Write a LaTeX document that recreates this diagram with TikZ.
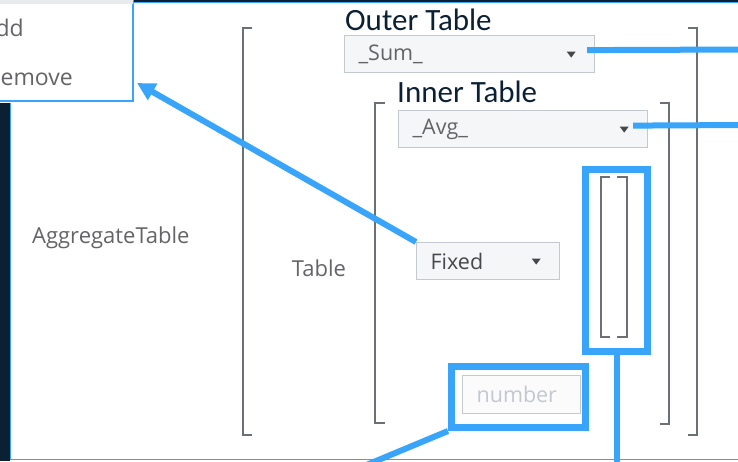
\documentclass[tikz,border=0pt]{standalone}
\usepackage{fontspec}
\setmainfont{Open Sans}
\newfontfamily\labelfont{Carlito}
\usetikzlibrary{arrows.meta}

\definecolor{hlblue}{RGB}{56,164,250}
\definecolor{navy}{RGB}{12,32,52}
\definecolor{brkgray}{RGB}{108,112,118}
\definecolor{boxfill}{RGB}{245,246,248}
\definecolor{boxline}{RGB}{196,201,207}
\definecolor{txtgray}{RGB}{100,100,104}
\definecolor{txtdark}{RGB}{70,72,76}
\definecolor{numgray}{RGB}{196,200,206}
\definecolor{menugray}{RGB}{232,234,237}

% small down triangle inside a dropdown
\newcommand\dropmark[1]{\fill[txtdark] ([xshift=-24pt]#1.east) ++(-4.5,-2.5) -- ++(9,0) -- ++(-4.5,6) -- cycle;}

\begin{document}
\begin{tikzpicture}[x=1pt,y=-1pt,
    brk/.style={draw=brkgray, line width=2pt},
    dropbox/.style={draw=boxline, fill=boxfill, line width=1.2pt, inner xsep=14pt, inner ysep=0pt,
      minimum height=37pt, align=left, anchor=north west, text=txtgray, font=\fontsize{21.5}{24}\selectfont},
    hlbox/.style={draw=hlblue, line width=7pt, inner sep=0pt},
    link/.style={draw=hlblue, line width=6pt},
    uitext/.style={text=txtgray, inner sep=0pt, font=\fontsize{22}{26}\selectfont},
    heading/.style={text=navy, inner sep=0pt, anchor=base west, font=\labelfont\fontsize{31}{33}\selectfont}]
  \useasboundingbox (0,0) rectangle (738,461);
  \clip (0,0) rectangle (738,461);

  % window frame
  \fill[navy] (134,0) rectangle (738,1.6);
  \draw[hlblue, line width=1.4pt] (134,2.3) -- (738,2.3);
  \fill[navy] (0,103) rectangle (9.6,461);
  \draw[hlblue, line width=1.2pt] (10.8,103) -- (10.8,459.6) -- (738,459.6);

  % popup menu
  \node[draw=hlblue, fill=white, line width=1.6pt, minimum width=146pt, minimum height=103pt,
    inner sep=0pt, anchor=south east] (menu) at (134,102) {};
  \fill[menugray] (0,0) rectangle (133.2,4);
  \node[uitext, anchor=east, font=\fontsize{23}{26}\selectfont] (addopt) at (24,28) {Add};
  \node[uitext, anchor=east, font=\fontsize{23}{26}\selectfont] (remopt) at (73,77) {Remove};

  % brackets
  \foreach \xa/\xb/\ya/\yb in {252/243/28/435, 688/697/28/435, 385/375/103/423,
                               660/669/103/424, 610/601/177/337, 617/627/177/337}
    \draw[brk] (\xa,\ya) -- (\xb,\ya) -- (\xb,\yb) -- (\xa,\yb);

  \node[uitext, anchor=west] (aggname) at (32,238) {AggregateTable};
  \node[uitext] (tabname) at (319,268) {Table};

  \node[heading] (outerlbl) at (345,30) {Outer Table};
  \node[dropbox, text width=222pt] (sum) at (344,35) {\_Sum\_};
  \dropmark{sum}
  \node[heading] (innerlbl) at (397,102) {Inner Table};
  \node[dropbox, text width=221pt] (avg) at (398,110) {\_Avg\_};
  \dropmark{avg}
  \node[dropbox, text width=115pt, text=txtdark] (fixed) at (416,242) {Fixed};
  \dropmark{fixed}

  \node[dropbox, text width=90pt, minimum height=38pt, fill=white!60!boxfill, text=numgray] (num) at (462,375) {number};

  % highlights
  \node[hlbox, minimum width=62pt, minimum height=182pt] (smallhl) at (616.5,260.5) {};
  \node[hlbox, minimum width=134pt, minimum height=61pt] (numhl) at (518.5,397) {};

  % connectors
  \coordinate (sumend) at (745,49.5);
  \coordinate (avgend) at (745,125);
  \coordinate (smallend) at (616.5,466);
  \coordinate (numend) at (364,466);
  \coordinate (menuhit) at (137,83);
  \draw[link] ([xshift=-8pt,yshift=4pt]sum.east) -- (sumend);
  \draw[link] ([xshift=-15pt,yshift=3.5pt]avg.east) -- (avgend);
  \draw[link] (smallhl.south) -- (smallend);
  \draw[link] (numhl.south west) -- (numend);
  \draw[link, -{Triangle[length=18pt,width=18pt]}] (fixed.north west) -- (menuhit);
\end{tikzpicture}
\end{document}
